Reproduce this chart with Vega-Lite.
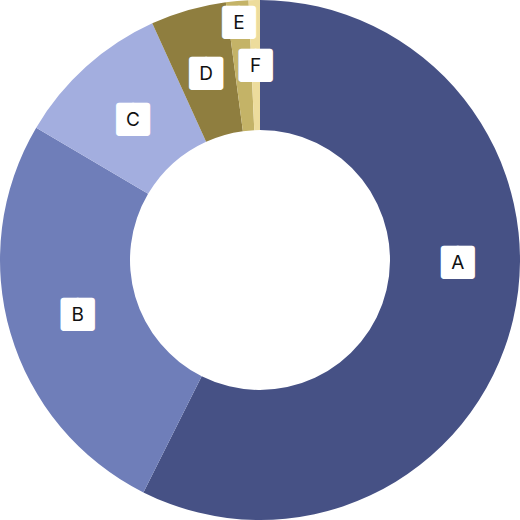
{
  "$schema": "https://vega.github.io/schema/vega-lite/v6.json",
  "width": 520,
  "height": 520,
  "autosize": {"type": "fit", "contains": "padding"},
  "padding": 0,
  "background": "white",
  "view": {"stroke": null},
  "data": {
    "values": [
      {"label": "A", "value": 57.4},
      {"label": "B", "value": 26.1},
      {"label": "C", "value": 9.7},
      {"label": "D", "value": 4.7},
      {"label": "E", "value": 1.4},
      {"label": "F", "value": 0.7}
    ]
  },
  "encoding": {
    "theta": {"field": "value", "type": "quantitative", "stack": true},
    "order": {"field": "label", "sort": "ascending"},
    "detail": {"field": "label", "type": "nominal"}
  },
  "layer": [
    {
      "mark": {"type": "arc", "innerRadius": 130, "outerRadius": 260},
      "encoding": {
        "color": {
          "field": "label",
          "type": "nominal",
          "scale": {
            "domain": ["A", "B", "C", "D", "E", "F"],
            "range": ["#465185", "#6f7eb9", "#a3aedf", "#8f7e3f", "#c4b367", "#eddc9c"]
          },
          "legend": null
        }
      }
    },
    {
      "mark": {
        "type": "text",
        "text": "██",
        "font": "DejaVu Sans Mono",
        "fontSize": 23,
        "align": "center",
        "baseline": "middle",
        "fill": "white",
        "stroke": "white",
        "strokeWidth": 6,
        "strokeJoin": "round",
        "radius": {"expr": "datum.label === 'E' ? 239 : (datum.label === 'B' || datum.label === 'C') ? 190 : 195"},
        "dx": {"expr": "datum.label === 'A' ? 8 : 0"},
        "dy": {"expr": "datum.label === 'A' ? -42 : 1"}
      }
    },
    {
      "mark": {
        "type": "text",
        "font": "Inter",
        "fontSize": 19,
        "align": "center",
        "baseline": "middle",
        "fill": "#111111",
        "radius": {"expr": "datum.label === 'E' ? 239 : (datum.label === 'B' || datum.label === 'C') ? 190 : 195"},
        "dx": {"expr": "datum.label === 'A' ? 8 : 0"},
        "dy": {"expr": "datum.label === 'A' ? -42 : 1"}
      },
      "encoding": {
        "text": {"field": "label", "type": "nominal"}
      }
    }
  ]
}
